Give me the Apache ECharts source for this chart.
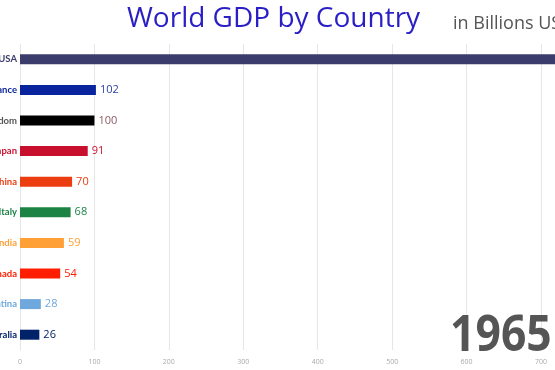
<!DOCTYPE html>
<html>
<head>
<meta charset="utf-8">
<script src="https://cdn.jsdelivr.net/npm/echarts@6/dist/echarts.min.js"></script>
<style>
html,body{margin:0;padding:0;background:#fff;}
#c{width:555px;height:370px;}
</style>
</head>
<body>
<div id="c"></div>
<script>
var countries = ['USA','France','United Kingdom','Japan','China','Italy','India','Canada','Argentina','Australia'];
var gdpValues = [743,102,100,91,70,68,59,54,28,26];
var barColors = ['#3c3c6c','#0a249e','#000000','#c8102e','#ec3d10','#1b8445','#ffa037','#ff1e00','#6fa8dc','#012169'];
var nameColors = ['#3c3c6c','#0a249e','#555555','#c8102e','#ec3d10','#1b8445','#ffa037','#ff1e00','#6fa8dc','#012169'];
var valueColors = ['#3c3c6c','#2b3ea8','#8a5a62','#c8102e','#ec3d10','#1b8445','#ffa037','#ff1e00','#6fa8dc','#012169'];
var xTicks = [0,100,200,300,400,500,600,700];
var yearText = '1965';

var chart = echarts.init(document.getElementById('c'));
chart.setOption({
  animation: false,
  backgroundColor: '#ffffff',
  title: [
    {text: 'World GDP by Country', left: 122, top: 0,
     textStyle: {fontFamily: 'Open Sans', fontSize: 28, fontWeight: 'normal', color: '#2a1fc4'}},
    {text: 'in Billions USD', left: 448, top: 10,
     textStyle: {fontFamily: 'Open Sans', fontSize: 18, fontWeight: 'normal', color: '#555555'}}
  ],
  graphic: [
    {type: 'text', x: 450, y: 312, scaleX: 0.89, z: 10,
     style: {text: yearText, font: 'bold 50px "Open Sans"', fill: '#555555'}}
  ],
  grid: {left: 20, right: 14, top: 44, bottom: 20, containLabel: false, outerBoundsMode: 'none'},
  xAxis: {
    type: 'value', min: xTicks[0], max: xTicks[xTicks.length-1], interval: 100,
    axisLine: {show: false}, axisTick: {show: false},
    splitLine: {lineStyle: {color: '#e6e6e6', width: 1}},
    axisLabel: {fontSize: 7, color: '#aaaaaa', margin: 8, fontFamily: 'Open Sans'}
  },
  yAxis: {
    type: 'category', inverse: true, data: countries,
    axisLine: {show: true, lineStyle: {color: '#e6e6e6'}},
    axisTick: {show: false},
    axisLabel: {
      fontSize: 9.5, fontWeight: 'bold', fontFamily: 'Lato', margin: 3,
      color: function (v, i) { return nameColors[i]; }
    }
  },
  series: [{
    type: 'bar', barWidth: 10, clip: false,
    data: gdpValues.map(function (v, i) {
      return {value: v,
        itemStyle: {color: barColors[i]},
        label: {color: valueColors[i]}};
    }),
    label: {show: true, position: 'right', distance: 4, fontSize: 11, fontFamily: 'Open Sans'}
  }]
});
</script>
</body>
</html>
